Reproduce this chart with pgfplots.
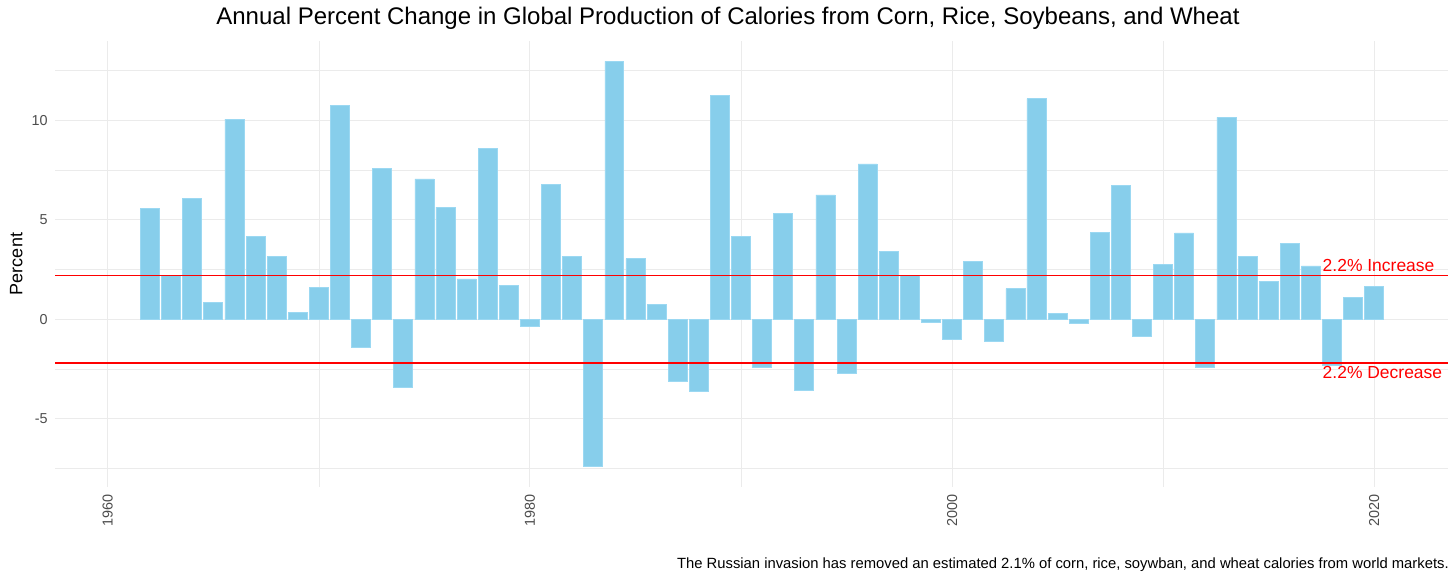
\documentclass[border=0pt]{standalone}
\usepackage{pgfplots}
\pgfplotsset{compat=1.18}
\usepackage{fontspec}
\setmainfont{Liberation Sans}
\definecolor{skyb}{HTML}{87CEEB}
\definecolor{skybedge}{HTML}{9BD8F2}
\definecolor{gridmaj}{HTML}{EBEBEB}
\definecolor{tickgray}{HTML}{4D4D4D}
\definecolor{lred}{HTML}{FF0000}
\begin{document}
\begin{tikzpicture}
\useasboundingbox (0,0) rectangle (1092pt,436.5pt);
\begin{axis}[
  at={(41.25pt,71.25pt)}, anchor=south west,
  scale only axis, width=1044.75pt, height=334.5pt,
  xmin=1957.5, xmax=2023.5, ymin=-8.42, ymax=13.98,
  axis line style={draw=none}, tick style={draw=none},
  xtick={1960,1980,2000,2020}, minor xtick={1970,1990,2010},
  ytick={-5,0,5,10}, minor ytick={-7.5,-2.5,2.5,7.5,12.5},
  grid=both,
  major grid style={gridmaj, line width=0.8pt},
  minor grid style={gridmaj, line width=0.4pt},
  /pgf/number format/assume math mode=true,
  /pgf/number format/1000 sep={},
  ticklabel style={font=\fontsize{10.8}{12}\selectfont, text=tickgray},
  xticklabel style={rotate=90, anchor=east},
  yticklabel style={anchor=east},
  xticklabel shift=2pt, yticklabel shift=2pt,
  ylabel={Percent}, ylabel style={font=\fontsize{13.5}{15}\selectfont},
  clip=false,
]
\addplot[ybar, bar width=0.9, bar shift=0pt, fill=skyb, draw=skybedge, line width=0.5pt] coordinates {
(1962,5.56) (1963,2.19) (1964,6.06) (1965,0.84) (1966,10.05) (1967,4.15)
(1968,3.17) (1969,0.33) (1970,1.61) (1971,10.74) (1972,-1.39) (1973,7.59)
(1974,-3.42) (1975,7.05) (1976,5.64) (1977,2.03) (1978,8.59) (1979,1.69)
(1980,-0.37) (1981,6.78) (1982,3.17) (1983,-7.40) (1984,12.96) (1985,3.05)
(1986,0.75) (1987,-3.10) (1988,-3.63) (1989,11.26) (1990,4.17) (1991,-2.43)
(1992,5.31) (1993,-3.57) (1994,6.25) (1995,-2.70) (1996,7.81) (1997,3.40)
(1998,2.21) (1999,-0.13) (2000,-0.99) (2001,2.90) (2002,-1.09) (2003,1.54)
(2004,11.09) (2005,0.30) (2006,-0.20) (2007,4.36) (2008,6.72) (2009,-0.84)
(2010,2.76) (2011,4.34) (2012,-2.41) (2013,10.15) (2014,3.18) (2015,1.91)
(2016,3.82) (2017,2.68) (2018,-2.29) (2019,1.09) (2020,1.64)
};
\addplot[draw=lred, line width=1.1pt, no marks, sharp plot] coordinates {(1957.5,-2.2) (2023.5,-2.2)};
\addplot[draw=lred, line width=1.1pt, no marks, sharp plot] coordinates {(1957.5,2.2) (2023.5,2.2)};
\node[text=lred, anchor=base west, inner sep=0pt, font=\fontsize{13.1}{14}\selectfont] at (axis cs:2017.55,2.4) {2.2\% Increase};
\node[text=lred, anchor=north west, inner sep=0pt, font=\fontsize{13.1}{14}\selectfont] at (axis cs:2017.55,-2.35) {2.2\% Decrease};
\end{axis}
\node[font=\fontsize{18}{20}\selectfont] at (546pt,423pt) {Annual Percent Change in Global Production of Calories from Corn, Rice, Soybeans, and Wheat};
\node[anchor=east, inner sep=0pt, font=\fontsize{11.1}{13}\selectfont] at (1086.75pt,12.75pt) {The Russian invasion has removed an estimated 2.1\% of corn, rice, soywban, and wheat calories from world markets.};
\end{tikzpicture}
\end{document}
